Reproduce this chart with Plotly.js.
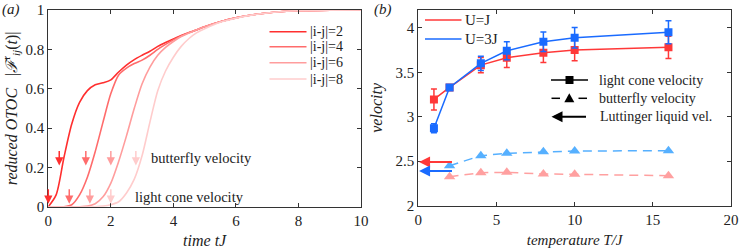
<!DOCTYPE html>
<html><head><meta charset="utf-8">
<script src="https://cdn.plot.ly/plotly-3.0.1.min.js"></script>
<style>html,body{margin:0;padding:0;background:#fff}</style>
</head><body><div id="chart" style="width:747px;height:250px"></div>
<script>
// ---------- panel (a): reduced OTOC vs time ----------
const tGrid = [0,0.25,0.5,0.75,1.0,1.25,1.5,1.75,2.0,2.25,2.5,2.75,3.0,3.25,3.5,3.75,4.0,4.25,4.5,4.75,5.0,5.5,6.0,6.5,7.0,7.5,8.0,9.0,10.0];
const otoc2 = [0,0.06,0.25,0.42,0.53,0.59,0.62,0.63,0.645,0.685,0.72,0.748,0.77,0.79,0.815,0.835,0.853,0.87,0.885,0.9,0.915,0.94,0.96,0.975,0.985,0.992,0.996,0.999,1.0];
const otoc4 = [0,0,0,0.01,0.06,0.15,0.28,0.43,0.575,0.67,0.705,0.728,0.745,0.77,0.8,0.825,0.848,0.868,0.885,0.9,0.915,0.94,0.96,0.975,0.985,0.992,0.996,0.999,1.0];
const otoc6 = [0,0,0,0,0,0.003,0.015,0.05,0.12,0.23,0.36,0.5,0.625,0.71,0.77,0.81,0.84,0.865,0.883,0.9,0.915,0.94,0.96,0.975,0.985,0.992,0.996,0.999,1.0];
const otoc8 = [0,0,0,0,0,0,0,0.003,0.01,0.025,0.07,0.14,0.26,0.43,0.59,0.69,0.76,0.815,0.855,0.885,0.905,0.938,0.958,0.974,0.985,0.992,0.996,0.999,1.0];
const distLabels = ['|i-j|=2','|i-j|=4','|i-j|=6','|i-j|=8'];
const butterflyArrowT = [0.35,1.2,2.0,2.8];
const butterflyArrowV = [0.21,0.21,0.21,0.21];
const lightConeArrowT = [0,0.67,1.33,2.0];
const lightConeArrowV = [0.015,0.015,0.015,0.015];

// ---------- panel (b): velocities vs temperature ----------
const temps = [1,2,4,5.66,8,10,16];
const lightConeUJ = [3.195,3.33,3.58,3.663,3.72,3.749,3.78];
const lightConeUJErr = [0.118,0.02,0.085,0.11,0.11,0.12,0.125];
const lightConeU3J = [2.87,3.33,3.6,3.742,3.843,3.888,3.95];
const lightConeU3JErr = [0.05,0.02,0.08,0.1,0.11,0.115,0.13];
const bfTemps = [2,4,5.66,8,10,16];
const butterflyUJ = [2.326,2.371,2.375,2.356,2.353,2.337];
const butterflyU3J = [2.45,2.562,2.589,2.607,2.615,2.618];
const luttingerUJ = 2.49;
const luttingerU3J = 2.39;
const luttingerFromT = 2.25;

// ---------- styles ----------
const curveColors = ['#ff2f2f','#ff6c6c','#ff9d9d','#ffcccc'];
const red = '#ff3838', blue = '#1a6bff', lightBlue = '#56b0ff', lightRed = '#ffa0a0';
const FONT = 'Liberation Serif';
const W = 747, H = 250;
const px = v => v / W, py = v => 1 - v / H;

const traces = [];
const otocs = [otoc2, otoc4, otoc6, otoc8];
otocs.forEach((v, i) => traces.push({
  x: tGrid, y: v, type: 'scatter', mode: 'lines', name: distLabels[i],
  line: {color: curveColors[i], width: 1.6, shape: 'spline', smoothing: 0.8},
  xaxis: 'x', yaxis: 'y', showlegend: false, hoverinfo: 'skip'
}));

traces.push({x: bfTemps, y: butterflyUJ, type: 'scatter', mode: 'lines+markers',
  line: {color: lightRed, width: 1.5, dash: '9px,6px'}, marker: {symbol: 'triangle-up', size: 10, color: lightRed},
  xaxis: 'x2', yaxis: 'y2', showlegend: false});
traces.push({x: bfTemps, y: butterflyU3J, type: 'scatter', mode: 'lines+markers',
  line: {color: lightBlue, width: 1.5, dash: '9px,6px'}, marker: {symbol: 'triangle-up', size: 10, color: lightBlue},
  xaxis: 'x2', yaxis: 'y2', showlegend: false});
traces.push({x: temps, y: lightConeUJ, type: 'scatter', mode: 'lines+markers',
  line: {color: red, width: 1.5}, marker: {symbol: 'square', size: 8, color: red},
  error_y: {type: 'data', array: lightConeUJErr, visible: true, color: red, thickness: 1.5, width: 3},
  xaxis: 'x2', yaxis: 'y2', showlegend: false});
traces.push({x: temps, y: lightConeU3J, type: 'scatter', mode: 'lines+markers',
  line: {color: blue, width: 1.5}, marker: {symbol: 'square', size: 8, color: blue},
  error_y: {type: 'data', array: lightConeU3JErr, visible: true, color: blue, thickness: 1.5, width: 3},
  xaxis: 'x2', yaxis: 'y2', showlegend: false});

const axisCommon = {
  showgrid: false, zeroline: false, showline: true, linecolor: '#333', linewidth: 1,
  mirror: 'ticks', ticks: 'inside', ticklen: 4, tickcolor: '#333',
  tickfont: {family: FONT, size: 15, color: '#222'}
};

const annotations = [];
const shapes = [];

// panel labels
annotations.push({xref: 'paper', yref: 'paper', x: 0, y: 1.005, xanchor: 'left', yanchor: 'top',
  text: '<i>(a)</i>', showarrow: false, font: {family: FONT, size: 15, color: '#222'}});
annotations.push({xref: 'paper', yref: 'paper', x: px(372), y: 1.005, xanchor: 'left', yanchor: 'top',
  text: '<i>(b)</i>', showarrow: false, font: {family: FONT, size: 15, color: '#222'}});

// velocity arrows in panel (a)
butterflyArrowT.forEach((t, i) => annotations.push({xref: 'x', yref: 'y', x: t, y: butterflyArrowV[i],
  text: '', showarrow: true, ax: 0, ay: -16, arrowhead: 2, arrowsize: 1.1, arrowwidth: 1.5, arrowcolor: curveColors[i]}));
lightConeArrowT.forEach((t, i) => annotations.push({xref: 'x', yref: 'y', x: t, y: lightConeArrowV[i],
  text: '', showarrow: true, ax: 0, ay: -16, arrowhead: 2, arrowsize: 1.1, arrowwidth: 1.5, arrowcolor: curveColors[i]}));
annotations.push({xref: 'x', yref: 'y', x: 3.22, y: 0.25, xanchor: 'left', yanchor: 'middle', showarrow: false,
  text: 'butterfly velocity', font: {family: FONT, size: 14.5, color: '#222'}});
annotations.push({xref: 'x', yref: 'y', x: 2.72, y: 0.05, xanchor: 'left', yanchor: 'middle', showarrow: false,
  text: 'light cone velocity', font: {family: FONT, size: 14.5, color: '#222'}});

// legend panel (a)
const legAY = [31.7, 46.7, 62.7, 79];
distLabels.forEach((lab, i) => {
  shapes.push({type: 'line', xref: 'paper', yref: 'paper', x0: px(269.5), x1: px(306.5), y0: py(legAY[i]), y1: py(legAY[i]),
    line: {color: curveColors[i], width: 1.6}});
  annotations.push({xref: 'paper', yref: 'paper', x: px(308), y: py(legAY[i]), xanchor: 'left', yanchor: 'middle',
    showarrow: false, text: lab, font: {family: FONT, size: 14, color: '#222'}});
});

// Luttinger arrows panel (b)
[[luttingerUJ, red], [luttingerU3J, blue]].forEach(([v, c]) => annotations.push({
  xref: 'x2', yref: 'y2', axref: 'x2', ayref: 'y2', x: 0.05, y: v, ax: luttingerFromT, ay: v,
  text: '', showarrow: true, arrowhead: 2, arrowsize: 1.1, arrowwidth: 2, arrowcolor: c}));

// legend panel (b): U=J / U=3J
[['U=J', red, 20], ['U=3J', blue, 39]].forEach(([lab, c, y]) => {
  shapes.push({type: 'line', xref: 'paper', yref: 'paper', x0: px(425), x1: px(461.5), y0: py(y), y1: py(y),
    line: {color: c, width: 1.5}});
  annotations.push({xref: 'paper', yref: 'paper', x: px(463), y: py(y), xanchor: 'left', yanchor: 'middle',
    showarrow: false, text: lab, font: {family: FONT, size: 15, color: '#222'}});
});
// legend panel (b): symbols
shapes.push({type: 'line', xref: 'paper', yref: 'paper', x0: px(551), x1: px(588), y0: py(80), y1: py(80), line: {color: '#000', width: 1.5}});
shapes.push({type: 'rect', xref: 'paper', yref: 'paper', xsizemode: 'pixel', ysizemode: 'pixel',
  xanchor: px(569.5), yanchor: py(80), x0: -4, x1: 4, y0: -4, y1: 4, fillcolor: '#000', line: {width: 0}});
shapes.push({type: 'line', xref: 'paper', yref: 'paper', x0: px(551.5), x1: px(560), y0: py(98.3), y1: py(98.3), line: {color: '#000', width: 1.5}});
shapes.push({type: 'line', xref: 'paper', yref: 'paper', x0: px(578.5), x1: px(587), y0: py(98.3), y1: py(98.3), line: {color: '#000', width: 1.5}});
shapes.push({type: 'path', xref: 'paper', yref: 'paper', xsizemode: 'pixel', ysizemode: 'pixel',
  xanchor: px(569.3), yanchor: py(98.3), path: 'M-5,-4 L5,-4 L0,5 Z', fillcolor: '#000', line: {width: 0}});
annotations.push({xref: 'paper', yref: 'paper', x: px(551.5), y: py(116.7), axref: 'pixel', ayref: 'pixel', ax: 36, ay: 0,
  text: '', showarrow: true, arrowhead: 2, arrowsize: 1.1, arrowwidth: 2, arrowcolor: '#000'});
[['light cone velocity', 80, 597], ['butterfly velocity', 98.3, 597], ['Luttinger liquid vel.', 116.7, 598]].forEach(([lab, y, x]) =>
  annotations.push({xref: 'paper', yref: 'paper', x: px(x), y: py(y), xanchor: 'left', yanchor: 'middle',
    showarrow: false, text: lab, font: {family: FONT, size: 14, color: '#222'}}));

const layout = {
  width: W, height: H, margin: {l: 0, r: 0, t: 0, b: 0},
  paper_bgcolor: '#fff', plot_bgcolor: '#fff', showlegend: false,
  font: {family: FONT, size: 14, color: '#222'},
  xaxis: Object.assign({}, axisCommon, {domain: [px(48.3), px(361)], range: [0, 10], tickvals: [0,2,4,6,8,10],
    title: {text: '<i>time tJ</i>', font: {family: FONT, size: 16, color: '#222'}, standoff: 7}, anchor: 'y'}),
  yaxis: Object.assign({}, axisCommon, {domain: [1 - 206.7 / H, 1 - 10 / H], range: [0, 1], tickvals: [0,0.2,0.4,0.6,0.8,1],
    ticktext: ['0','0.2','0.4','0.6','0.8','1'],
    title: {text: '<i>reduced OTOC</i>   |<i>ℱ</i><sup>r</sup><sub><i>ij</i></sub>(<i>t</i>)|', font: {family: FONT, size: 16, color: '#222'}, standoff: 8}, anchor: 'x'}),
  xaxis2: Object.assign({}, axisCommon, {domain: [px(418.3), px(731)], range: [0, 20], tickvals: [0,5,10,15,20],
    title: {text: '<i>temperature T/J</i>', font: {family: FONT, size: 15, color: '#222'}, standoff: 7}, anchor: 'y2'}),
  yaxis2: Object.assign({}, axisCommon, {domain: [1 - 205.7 / H, 1 - 10 / H], range: [2, 4.2], tickvals: [2,2.5,3,3.5,4],
    ticktext: ['2','2.5','3','3.5','4'],
    title: {text: '<i>velocity</i>', font: {family: FONT, size: 16, color: '#222'}, standoff: 8}, anchor: 'x2'}),
  annotations: annotations, shapes: shapes
};

Plotly.newPlot('chart', traces, layout, {staticPlot: true, displayModeBar: false});
</script>
</body></html>
